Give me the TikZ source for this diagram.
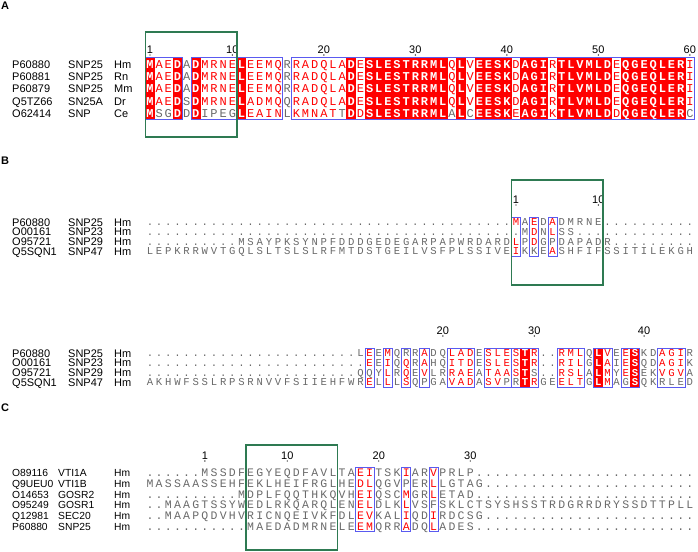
\documentclass[tikz,border=0pt]{standalone}
\usepackage{fontspec}
\setmainfont{Liberation Sans}
\newfontfamily\seqfont{Liberation Mono}
\usetikzlibrary{positioning}
\definecolor{simred}{RGB}{255,0,0}
\definecolor{boxblue}{RGB}{90,90,240}
\definecolor{framegreen}{RGB}{46,122,82}
\definecolor{resgray}{RGB}{105,105,105}

% alignment grid: centre of column 1 and column pitch
\def\xzero{150}
\def\colw{9.15}
\newcounter{rescol}
\newcommand\panelsetup[5]{\def\panelid{#1}\def\ytop{#2}\def\rowh{#3}\def\nrows{#4}\def\seqsize{#5}}
% one aligned row: row number, residues, colour mask (w = white on red, r = red, g = grey)
\newcommand\seqrow[3]{\setcounter{rescol}{0}\def\rowidx{#1}%
  \walkres#2\relax#3gggggggggggggggggggggggggggggggggggggggggggggggggggggggggggg\relax}
\def\walkres#1#2\relax#3#4\relax{\stepcounter{rescol}\drawres{#1}{#3}%
  \ifx\relax#2\relax\else\walkres#2\relax#4\relax\fi}
\newcommand\drawres[2]{%
  \pgfmathsetmacro\cx{\xzero+(\arabic{rescol}-1)*\colw}%
  \pgfmathsetmacro\cy{\ytop+(\rowidx-1)*\rowh}%
  \pgfmathsetmacro\by{\cy+0.34*\seqsize}%
  \if#2w%
    \fill[simred] (\cx-\colw/2-0.3,\cy-\rowh/2-0.2) rectangle (\cx+\colw/2+0.3,\cy+\rowh/2+0.2);%
    \node[res, text=white, font=\seqfont\bfseries\fontsize{\seqsize}{\seqsize}\selectfont] (\panelid-\rowidx-\arabic{rescol}) at (\cx,\by) {#1};%
  \else\if#2r%
    \node[res, text=simred] (\panelid-\rowidx-\arabic{rescol}) at (\cx,\by) {#1};%
  \else
    \node[res, text=resgray] (\panelid-\rowidx-\arabic{rescol}) at (\cx,\by) {#1};%
  \fi\fi}
% blue box round similar columns (first, last)
\newcommand\boxcols[2]{%
  \pgfmathsetmacro\bxa{\xzero+(#1-1.5)*\colw}%
  \pgfmathsetmacro\bxb{\xzero+(#2-0.5)*\colw}%
  \pgfmathsetmacro\bya{\ytop-\rowh/2}%
  \pgfmathsetmacro\byb{\ytop+(\nrows-0.5)*\rowh}%
  \draw[simbox] (\bxa,\bya) rectangle (\bxb,\byb);}
% numbering above a column (column, baseline, text)
\newcommand\colnum[3]{%
  \pgfmathsetmacro\cx{\xzero+(#1-1)*\colw}%
  \node[num] (\panelid-num#3) at (\cx,#2) {#3};%
  \fill (\cx,#2+2) circle (0.7pt);}
% green frame round columns (first, last, top, bottom)
\newcommand\keycols[4]{%
  \pgfmathsetmacro\bxa{\xzero+(#1-1.5)*\colw}%
  \pgfmathsetmacro\bxb{\xzero+(#2-0.5)*\colw}%
  \draw[keyframe] (\bxa,#3) rectangle (\bxb,#4);}

\begin{document}
\begin{tikzpicture}[x=1pt, y=-1pt,
    res/.style={anchor=base, inner sep=0pt, text depth=0pt, font=\seqfont\fontsize{\seqsize}{\seqsize}\selectfont},
    lab/.style={anchor=base west, inner sep=0pt, font=\fontsize{11}{11}\selectfont},
    labc/.style={lab, font=\fontsize{10.3}{10.3}\selectfont},
    num/.style={anchor=base, inner sep=0pt, font=\fontsize{11}{11}\selectfont},
    panel/.style={anchor=north west, inner sep=0pt, font=\bfseries\fontsize{11}{11}\selectfont},
    simbox/.style={draw=boxblue, line width=0.9pt},
    keyframe/.style={draw=framegreen, line width=1.3pt}
]
\useasboundingbox (0,0) rectangle (698,551);

% Panel A
\node[panel] (labA) at (1,2) {A};
\panelsetup{A}{64}{12.4}{5}{12}
\foreach \acc/\gene/\sp [count=\i] in {P60880/SNP25/Hm, P60881/SNP25/Rn, P60879/SNP25/Mm, Q5TZ66/SN25A/Dr, O62414/SNP/Ce}{
  \pgfmathsetmacro\ly{64+(\i-1)*12.4+4}
  \node[lab] (A-acc\i) at (12,\ly) {\acc};
  \node[lab] (A-gene\i) at (68,\ly) {\gene};
  \node[lab] (A-sp\i) at (114,\ly) {\sp};
}
\colnum{1}{53}{1}
\foreach \c in {10,20,...,60}{\colnum{\c}{53}{\c}}
\seqrow{1}{MAEDADMRNE LEEMQRRADQ LADESLESTR RMLQLVEESK DAGIRTLVML DEQGEQLERI}{wrrwgwrrrr wrrrrgrrrr rrwrwwwwww wwwrwrwwww rwwwrwwwww wrwwwwwwwr}
\seqrow{2}{MAEDADMRNE LEEMQRRADQ LADESLESTR RMLQLVEESK DAGIRTLVML DEQGEQLERI}{wrrwgwrrrr wrrrrgrrrr rrwrwwwwww wwwrwrwwww rwwwrwwwww wrwwwwwwwr}
\seqrow{3}{MAEDADMRNE LEEMQRRADQ LADESLESTR RMLQLVEESK DAGIRTLVML DEQGEQLERI}{wrrwgwrrrr wrrrrgrrrr rrwrwwwwww wwwrwrwwww rwwwrwwwww wrwwwwwwwr}
\seqrow{4}{MAEDSDMRNE LADMQQRADQ LADESLESTR RMLQLVEESK DAGIRTLVML DEQGEQLERI}{wrrwgwrrrr wrrrrgrrrr rrwrwwwwww wwwrwrwwww rwwwrwwwww wrwwwwwwwr}
\seqrow{5}{MSGDDDIPEG LEAINLKMNA TTDDSLESTR RMLALCEESK EAGIKTLVML DDQGEQLERC}{wggwgwgggg wrrrrgrrrr rgwrwwwwww wwwgwgwwww rwwwrwwwww wrwwwwwwwg}
\boxcols{1}{4}
\boxcols{6}{15}
\boxcols{17}{60}
\keycols{1}{10}{32}{137}

% Panel B, first block
\node[panel] (labB) at (1,157) {B};
\panelsetup{B1}{222}{9.7}{4}{10.6}
\foreach \acc/\gene [count=\i] in {P60880/SNP25, O00161/SNP23, O95721/SNP29, Q5SQN1/SNP47}{
  \pgfmathsetmacro\ly{222+(\i-1)*9.7+4}
  \node[lab] (B1-acc\i) at (12,\ly) {\acc};
  \node[lab] (B1-gene\i) at (68,\ly) {\gene};
  \node[lab] (B1-sp\i) at (114,\ly) {Hm};
}
\colnum{41}{203}{1}
\colnum{50}{203}{10}
\seqrow{1}{.......... .......... .......... .......... MAEDADMRNE ..........}{gggggggggg gggggggggg gggggggggg gggggggggg rgrgrggggg}
\seqrow{2}{.......... .......... .......... .......... .MDNLSS... ..........}{gggggggggg gggggggggg gggggggggg gggggggggg ggrgrggggg}
\seqrow{3}{.......... MSAYPKSYNP FDDDGEDEGA RPAPWRDARD LPDGPDAPAD R.........}{gggggggggg gggggggggg gggggggggg gggggggggg rgrggggggg}
\seqrow{4}{LEPKRRWVTG QLSLTSLSLR FMTDSTGEIL VSFPLSSIVE IKKEASHFIF SSITILEKGH}{gggggggggg gggggggggg gggggggggg gggggggggg rgggrggggg}
\foreach \c in {41,43,45}{\boxcols{\c}{\c}}
\keycols{41}{50}{180}{285}

% Panel B, second block
\panelsetup{B2}{353}{9.7}{4}{10.6}
\foreach \acc/\gene [count=\i] in {P60880/SNP25, O00161/SNP23, O95721/SNP29, Q5SQN1/SNP47}{
  \pgfmathsetmacro\ly{353+(\i-1)*9.7+4}
  \node[lab] (B2-acc\i) at (12,\ly) {\acc};
  \node[lab] (B2-gene\i) at (68,\ly) {\gene};
  \node[lab] (B2-sp\i) at (114,\ly) {Hm};
}
\colnum{33}{334}{20}
\colnum{43}{334}{30}
\colnum{55}{334}{40}
\seqrow{1}{.......... .......... ...LEEMQRR ADQLADESLE STR..RMLQL VEESKDAGIR}{gggggggggg gggggggggg ggggrgrggg rggrrrgrrr rwrggrrrgw rgrwggrrrg}
\seqrow{2}{.......... .......... ....EEIQQR AHQITDESLE STR..RILGL AIESQDAGIK}{gggggggggg gggggggggg ggggrgrgrg rggrrrgrrr rwrggrrrgw rgrwggrrrg}
\seqrow{3}{.......... .......... ...QQYLRQE VLRRAEATAA STS..RSLAL MYESEKVGVA}{gggggggggg gggggggggg ggggggrgrg rggrrrgrrr rwgggrrrgw rgrwggrrrg}
\seqrow{4}{AKHWFSSLRP SRNVVFSIIE HFWRELLLSQ PGAVADASVP RTRGEELTGL MAGSQKRLED}{gggggggggg gggggggggg ggggrgrgrg gggrrrgrrg gwrggrrrgw rggwgggggg}
\foreach \a/\b in {25/25, 27/27, 29/29, 31/31, 34/36, 38/40, 41/43, 46/48, 50/51, 53/54, 57/59}{\boxcols{\a}{\b}}

% Panel C
\node[panel] (labC) at (1,404) {C};
\panelsetup{C}{472.5}{10.8}{6}{11.5}
\foreach \acc/\gene [count=\i] in {O89116/VTI1A, Q9UEU0/VTI1B, O14653/GOSR2, O95249/GOSR1, Q12981/SEC20, P60880/SNP25}{
  \pgfmathsetmacro\ly{472.5+(\i-1)*10.8+4}
  \node[labc] (C-acc\i) at (12,\ly) {\acc};
  \node[labc] (C-gene\i) at (58,\ly) {\gene};
  \node[labc] (C-sp\i) at (114,\ly) {Hm};
}
\colnum{7}{459}{1}
\colnum{16}{459}{10}
\colnum{26}{459}{20}
\colnum{36}{459}{30}
\seqrow{1}{......MSSD FEGYEQDFAV LTAEITSKIA RVPRLP.... .......... ..........}{gggggggggg gggggggggg gggrrgggrg grgggggggg}
\seqrow{2}{MASSAASSEH FEKLHEIFRG LHEDLQGVPE RLLGTAG... .......... ..........}{gggggggggg gggggggggg gggrrggggg grgggggggg}
\seqrow{3}{.......... MDPLFQQTHK QVHEIQSCMG RLETAD.... .......... ..........}{gggggggggg gggggggggg gggrrgggrg grgggggggg}
\seqrow{4}{..MAAGTSSY WEDLRKQARQ LENELDLKLV SFSKLCTSYS HSSTRDGRRD RYSSDTTPLL}{gggggggggg gggggggggg gggrrgggrg gggggggggg}
\seqrow{5}{..MAAPQDVH VRICNQEIVK FDLEVKALIQ DIRDCSG... .......... ..........}{gggggggggg gggggggggg gggrrgggrg grgggggggg}
\seqrow{6}{.......... .MAEDADMRN ELEEMQRRAD QLADES.... .......... ..........}{gggggggggg gggggggggg gggrrgggrg grgggggggg}
\boxcols{24}{25}
\boxcols{29}{29}
\boxcols{32}{32}
\keycols{12}{21}{445}{550}

\end{tikzpicture}
\end{document}
